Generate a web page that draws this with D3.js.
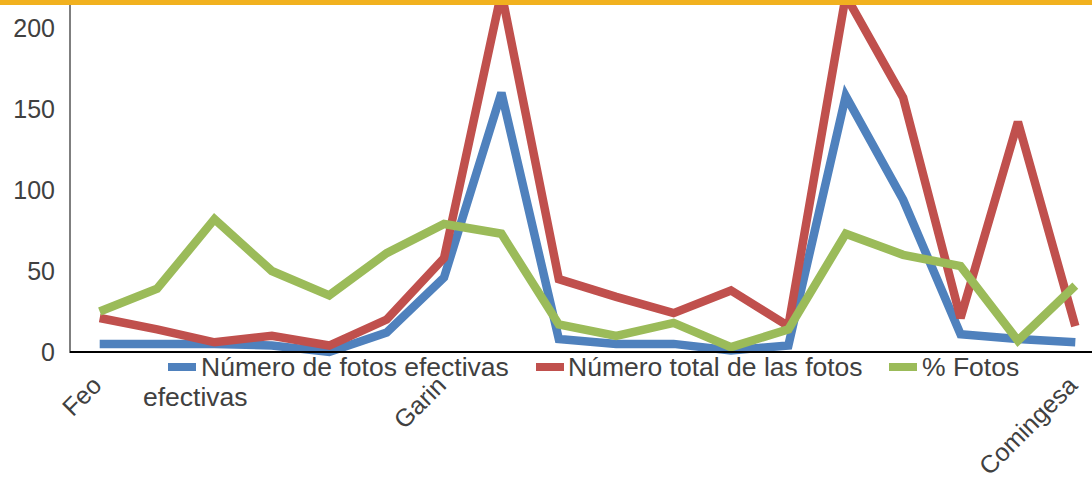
<!DOCTYPE html>
<html>
<head>
<meta charset="utf-8">
<script src="https://cdn.jsdelivr.net/npm/d3@7"></script>
<style>
  html, body { margin: 0; padding: 0; background: #ffffff; }
  svg { display: block; font-family: "Liberation Sans", Arial, sans-serif; }
</style>
</head>
<body>
<svg id="chart" width="1092" height="481"></svg>
<script>
// ---- data ----
const categoryLabels = ["Feo", "", "", "", "", "", "Garin", "", "", "", "", "", "", "", "", "", "", "Comingesa"];
const fotosEfectivas = [5, 5, 5, 4, 0, 12, 46, 160, 8, 5, 5, 1, 4, 158, 94, 11, 8, 6];
const fotosTotal     = [21, 14, 6, 10, 4, 20, 58, 222, 45, 34, 24, 38, 16, 220, 157, 21, 142, 16];
const pctFotos       = [25, 39, 82, 50, 35, 61, 79, 73, 17, 10, 18, 3, 14, 73, 60, 53, 7, 41];
const yTicks = [0, 50, 100, 150, 200];
const seriesNames = ["Número de fotos efectivas", "Número total de las fotos", "% Fotos"];
const seriesColors = ["#4F81BD", "#C0504D", "#9BBB59"];

const series = [fotosEfectivas, fotosTotal, pctFotos].map((vals, i) => ({
  name: seriesNames[i], color: seriesColors[i], values: vals
}));

const svg = d3.select("#chart");
const W = 1092, H = 481;
const idx = d3.range(categoryLabels.length);

const x = d3.scalePoint().domain(idx).range([71, 1104]).padding(0.5);
const y = d3.scaleLinear().domain([0, 200]).range([352, 28]);

// clip for plot area
svg.append("defs").append("clipPath").attr("id", "plotclip")
  .append("rect").attr("x", 71).attr("y", 5).attr("width", W - 71).attr("height", 352 - 5 + 6);

// y axis
const yAxis = d3.axisLeft(y).tickValues(yTicks).tickSize(0).tickPadding(15);
const gy = svg.append("g").attr("transform", "translate(70,0)").call(yAxis);
gy.select(".domain").remove();
gy.selectAll("text").attr("font-size", 25).attr("fill", "#404040")
  .attr("font-family", "Liberation Sans, Arial, sans-serif");
svg.append("line").attr("x1", 70).attr("x2", 70).attr("y1", 5).attr("y2", 353)
  .attr("stroke", "#7f7f7f").attr("stroke-width", 2);

// lines
const line = d3.line().x((d, i) => x(i)).y(d => y(d));
const gl = svg.append("g").attr("clip-path", "url(#plotclip)");
series.forEach(s => {
  gl.append("path").datum(s.values)
    .attr("d", line)
    .attr("fill", "none")
    .attr("stroke", s.color)
    .attr("stroke-width", 8.5)
    .attr("stroke-linejoin", "miter")
    .attr("stroke-miterlimit", 3)
    .attr("stroke-linecap", "butt");
});

// x axis
const xAxis = d3.axisBottom(x).tickSize(0).tickFormat(i => categoryLabels[i]);
const gx = svg.append("g").attr("transform", "translate(0,352)").call(xAxis);
gx.select(".domain").remove();
svg.append("line").attr("x1", 70).attr("x2", W).attr("y1", 352).attr("y2", 352)
  .attr("stroke", "#000").attr("stroke-width", 2);
gx.selectAll("text")
  .attr("font-size", 25).attr("fill", "#404040")
  .attr("font-family", "Liberation Sans, Arial, sans-serif")
  .attr("text-anchor", "end")
  .attr("dy", null).attr("y", null)
  .attr("transform", "translate(3,35) rotate(-45)");

// legend
const legendItems = [
  {x: 168, tx: 201},
  {x: 536, tx: 568},
  {x: 889, tx: 922}
];
const lg = svg.append("g");
series.forEach((s, i) => {
  lg.append("line").attr("x1", legendItems[i].x).attr("x2", legendItems[i].x + 28)
    .attr("y1", 367).attr("y2", 367).attr("stroke", s.color).attr("stroke-width", 8);
  lg.append("text").attr("x", legendItems[i].tx).attr("y", 376)
    .attr("font-size", 26.5).attr("fill", "#404040").text(s.name);
});
lg.append("text").attr("x", 143).attr("y", 406).attr("font-size", 26.5).attr("fill", "#404040").text("efectivas");

// top orange bar
svg.append("rect").attr("x", 0).attr("y", 0).attr("width", W).attr("height", 5).attr("fill", "#F1B11F");
</script>
</body>
</html>
